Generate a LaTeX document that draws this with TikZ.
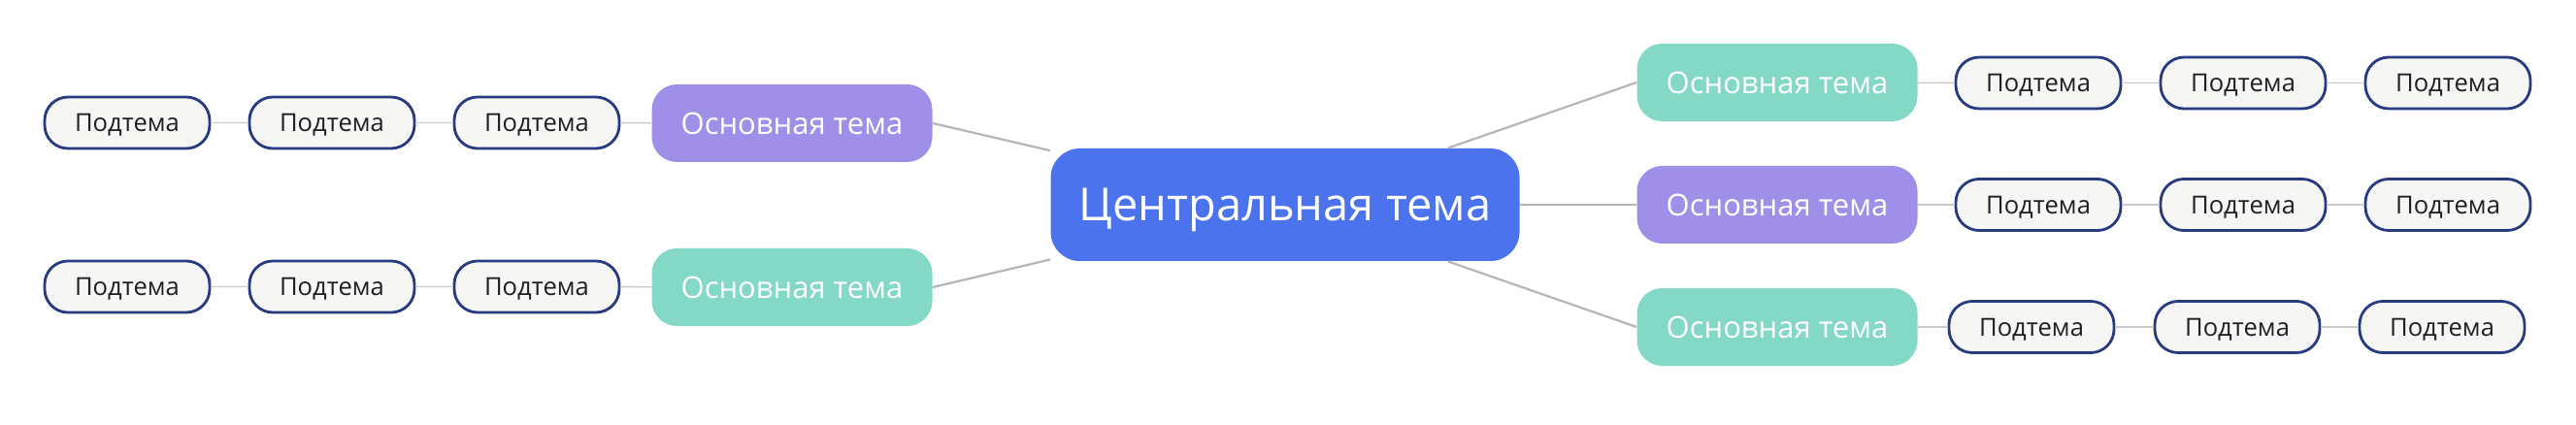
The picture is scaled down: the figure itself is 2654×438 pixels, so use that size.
\documentclass[tikz,border=0pt]{standalone}
\usepackage{fontspec}
\setmainfont{Open Sans}
\usepackage{tikz}
\definecolor{bleu}{HTML}{4B73EE}
\definecolor{violet}{HTML}{A08FE8}
\definecolor{vert}{HTML}{84D9C6}
\definecolor{fond}{HTML}{F6F6F4}
\definecolor{bord}{HTML}{283A80}
\definecolor{gris}{HTML}{B5B5B5}
\definecolor{grisclair}{HTML}{CACACA}
\tikzset{
    centre/.style={rectangle,rounded corners=15pt,fill=bleu,text=white,minimum width=241.5pt,minimum height=58pt,inner sep=0pt,text height=16.8pt,text depth=0pt,font=\fontsize{23.5}{27}\selectfont},
    theme/.style={rectangle,rounded corners=13pt,fill=#1,text=white,minimum width=144.5pt,minimum height=40pt,inner sep=0pt,text height=11.1pt,text depth=0pt,font=\fontsize{15.5}{18}\selectfont},
    soustheme/.style={rectangle,rounded corners=12pt,draw=bord,line width=1.4pt,fill=fond,text=black!88,minimum width=85pt,minimum height=26.5pt,inner sep=0pt,text height=9.1pt,text depth=0pt,font=\fontsize{12.8}{15}\selectfont},
    lien/.style={draw=gris,line width=1.1pt},
    souslien/.style={draw=grisclair,line width=0.7pt},
  }
\begin{document}
\begin{tikzpicture}[x=0.5pt,y=-0.5pt]
			          %CADRE
			          \useasboundingbox (0,0) rectangle (2654,438);

				  %CENTRE
				  \node[centre] (C) at (1324,211) {Центральная тема};

				  %THEMES GAUCHE
				  \node[theme=violet] (L1) at (816,127) {Основная тема};
				  \node[theme=vert] (L2) at (816,296) {Основная тема};

				  %THEMES DROITE
				  \node[theme=vert] (R1) at (1831,85) {Основная тема};
				  \node[theme=violet] (R2) at (1831,211) {Основная тема};
				  \node[theme=vert] (R3) at (1831,337) {Основная тема};

				  %SOUS-THEMES GAUCHE
				  \node[soustheme] (L1a) at (553,126.5) {Подтема};
				  \node[soustheme] (L1b) at (342,126.5) {Подтема};
				  \node[soustheme] (L1c) at (131,126.5) {Подтема};
				  \node[soustheme] (L2a) at (553,295.5) {Подтема};
				  \node[soustheme] (L2b) at (342,295.5) {Подтема};
				  \node[soustheme] (L2c) at (131,295.5) {Подтема};

				  %SOUS-THEMES DROITE
				  \node[soustheme] (R1a) at (2100,85.5) {Подтема};
				  \node[soustheme] (R1b) at (2311,85.5) {Подтема};
				  \node[soustheme] (R1c) at (2522,85.5) {Подтема};
				  \node[soustheme] (R2a) at (2100,211) {Подтема};
				  \node[soustheme] (R2b) at (2311,211) {Подтема};
				  \node[soustheme] (R2c) at (2522,211) {Подтема};
				  \node[soustheme] (R3a) at (2093,337) {Подтема};
				  \node[soustheme] (R3b) at (2305,337) {Подтема};
				  \node[soustheme] (R3c) at (2516,337) {Подтема};

				  %LIENS
				  \path[lien] (C) -- (L1.east);
				  \path[lien] (C) -- (L2.east);
				  \path[lien] (C) -- (R1.west);
				  \path[lien] (C) -- (R2.west);
				  \path[lien] (C) -- (R3.west);

				  \path[souslien] (L1) -- (L1a) -- (L1b) -- (L1c);
				  \path[souslien] (L2) -- (L2a) -- (L2b) -- (L2c);
				  \path[souslien] (R1) -- (R1a) -- (R1b) -- (R1c);
				  \path[souslien] (R2) -- (R2a) -- (R2b) -- (R2c);
				  \path[souslien] (R3) -- (R3a) -- (R3b) -- (R3c);
\end{tikzpicture}
\end{document}
